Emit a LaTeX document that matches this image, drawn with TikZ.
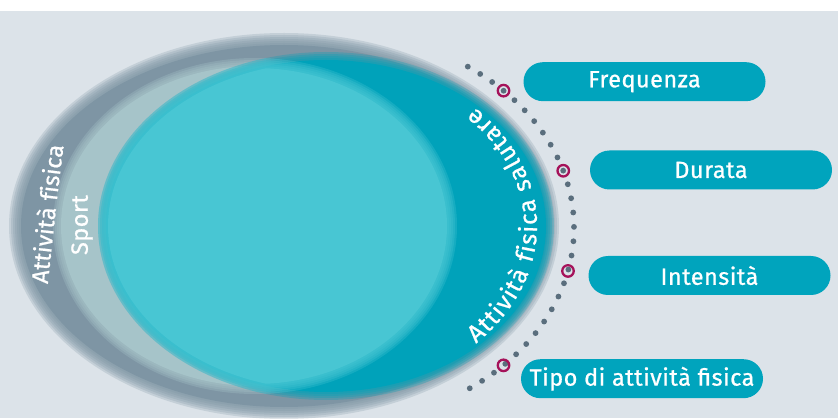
\documentclass[tikz,border=0pt]{standalone}
\usepackage{fontspec}
\setmainfont{Fira Sans}[LetterSpace=2,FakeBold=0.8]
\usetikzlibrary{decorations.text,calc}

\definecolor{bgc}{HTML}{DCE3E9}
\definecolor{grayc}{HTML}{7E95A4}
\definecolor{sportc}{HTML}{A6C4C9}
\definecolor{tealc}{HTML}{00A2BA}
\definecolor{cyanc}{HTML}{48C6D3}
\definecolor{pillc}{HTML}{00A4BD}
\definecolor{dotc}{HTML}{5A6E7D}
\definecolor{ringc}{HTML}{A5125A}

\newcommand{\lblfont}{\fontsize{23.5}{28}\selectfont}

\tikzset{
  pill/.style={fill=pillc, rounded corners=19.5pt, minimum width=242pt,
    minimum height=39pt, inner sep=0pt, text=white, font=\lblfont},
  ring/.style={circle, draw=ringc, line width=2.3pt, minimum size=11.5pt, inner sep=0pt},
  dotline/.style={dotc, line width=5.8pt, line cap=round, dash pattern=on 0pt off 14.4pt},
  lbl/.style={text=white, font=\lblfont, inner sep=0pt}
}

\begin{document}
\begin{tikzpicture}[x=1pt,y=1pt]
  \useasboundingbox (0,0) rectangle (838,418);
  \fill[bgc] (0,0) rectangle (838,407);
  \fill[white] (0,407) rectangle (838,418);

  % Attivita fisica
  \foreach \k in {0,...,5}
    \fill[grayc,opacity=0.25] (284,192) ellipse [x radius=275-2*\k, y radius=193-2*\k];
  \fill[grayc] (284,192) ellipse [x radius=263, y radius=181];

  % Sport
  \foreach \k in {0,...,3}
    \fill[sportc,opacity=0.3] (255,192) ellipse [x radius=202-2*\k, y radius=168-2*\k];
  \fill[sportc] (255,192) ellipse [x radius=194, y radius=160];

  % salutare
  \foreach \k in {0,...,3}
    \fill[tealc,opacity=0.3] (326,192) ellipse [x radius=228-2*\k, y radius=174-2*\k];
  \fill[tealc] (326,192) ellipse [x radius=220, y radius=166];

  % overlap
  \foreach \k in {0,...,4} {
    \begin{scope}
      \clip (255,192) ellipse [x radius=202-2*\k, y radius=168-2*\k];
      \fill[cyanc,opacity=0.3] (326,192) ellipse [x radius=228-2*\k, y radius=174-2*\k];
    \end{scope}
  }
  \begin{scope}
    \clip (255,192) ellipse [x radius=192, y radius=158];
    \fill[cyanc] (326,192) ellipse [x radius=218, y radius=164];
  \end{scope}

  % labels of the sets
  \node[lbl, rotate=90] (sport) at (82,193) {Sport};
  \path[decorate, decoration={text along path, text align=center,
      text={|\lblfont\color{white}|Attività fisica}}]
    (43,90) .. controls (51,160) and (58,240) .. (70,316);
  \path[decorate, decoration={text along path, text align=center,
      text={|\fontsize{24.5}{28}\selectfont\color{white}\kern1.4pt|Attività fisica salutare}}]
    ([shift={(-75:211pt and 167pt)}]326,192)
    arc[start angle=-75, end angle=75, x radius=211, y radius=167];

  % dotted arc
  \coordinate (o) at (325,190);
  \draw[dotline] ([shift={(55:249pt and 197pt)}]o)
    arc[start angle=55, end angle=-55, x radius=249, y radius=197];
  \node[ring] (rfreq) at ($(o)+(44.2:249pt and 197pt)$) {};
  \node[ring] (rdur) at ($(o)+(16.9:249pt and 197pt)$) {};
  \node[ring] (rint) at ($(o)+(-12.6:249pt and 197pt)$) {};
  \node[ring] (rtipo) at ($(o)+(-44.2:249pt and 197pt)$) {};

  % boxes
  \node[pill] (freq) at (644.5,336.3) {Frequenza};
  \node[pill] (dur) at (711,248) {Durata};
  \node[pill] (int) at (709.5,142.5) {Intensità};
  \node[pill] (tipo) at (642,39.3) {Tipo di attività fisica};
\end{tikzpicture}
\end{document}
